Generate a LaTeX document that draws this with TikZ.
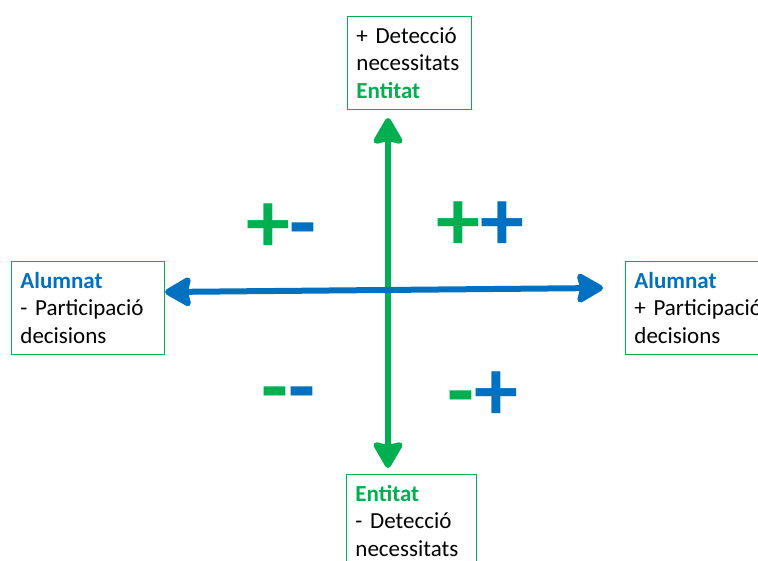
\documentclass[tikz,border=0pt]{standalone}
\usepackage{fontspec}
\setmainfont{Carlito}
\usetikzlibrary{arrows.meta}
\definecolor{axgreen}{RGB}{0,176,80}
\definecolor{axblue}{RGB}{0,112,192}
\begin{document}
\begin{tikzpicture}[x=1pt,y=-1pt,
	box/.style={draw=axgreen,line width=0.9pt,anchor=north west,align=left,inner xsep=9pt,inner ysep=0pt,minimum height=93pt,font=\fontsize{23}{27.5}\selectfont},
	sign/.style={font=\fontsize{88}{88}\selectfont\bfseries,inner sep=0pt},
	>={Stealth[length=30pt,width=34pt,inset=4pt,round]}]
	\useasboundingbox (0,0) rectangle (758,561);
	\clip (0,0) rectangle (758,561);
	\node[box,text width=106pt] (top) at (347,16) {+ Detecció\\necessitats\\\textcolor{axgreen}{\textbf{Entitat}}};
	\node[box,text width=135pt] (left) at (11,261) {\textcolor{axblue}{\textbf{Alumnat}}\\- Participació\\decisions};
	\node[box,text width=145pt] (right) at (625,261) {\textcolor{axblue}{\textbf{Alumnat}}\\+ Participació\\decisions};
	\node[box,text width=112pt] (bottom) at (346,474) {\textcolor{axgreen}{\textbf{Entitat}}\\- Detecció\\necessitats};
	\coordinate (gtop) at (388,118);
	\coordinate (gbot) at (388,468);
	\coordinate (bleft) at (165,292);
	\coordinate (bright) at (603,288);
	\draw[<->,axgreen,line width=6pt] (gbot)--(gtop);
	\draw[<->,axblue,line width=6pt] (bleft)--(bright);
	\node[sign] (pm) at (281.5,228) {\textcolor{axgreen}{+}\textcolor{axblue}{-}};
	\node[sign] (pp) at (480.5,226) {\textcolor{axgreen}{+}\textcolor{axblue}{+}};
	\node[sign] (mm) at (288,402) {\textcolor{axgreen}{-}\textcolor{axblue}{-}};
	\node[sign] (mp) at (482.5,396) {\textcolor{axgreen}{-}\textcolor{axblue}{+}};
\end{tikzpicture}
\end{document}
